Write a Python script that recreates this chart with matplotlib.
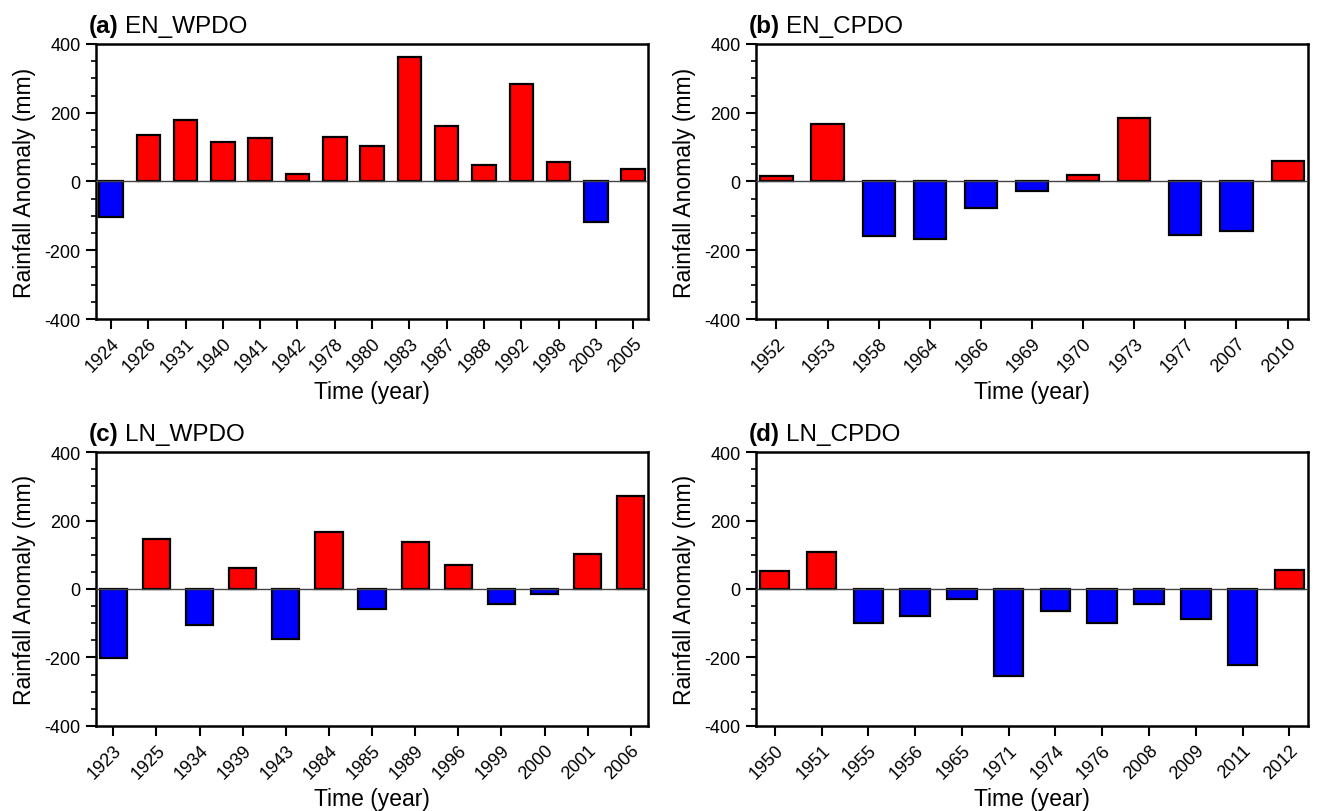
import numpy as np
import matplotlib
matplotlib.use('Agg')
import matplotlib.pyplot as plt
from matplotlib.ticker import MultipleLocator

plt.rcParams['font.family'] = ['Liberation Sans', 'DejaVu Sans']
plt.rcParams['axes.unicode_minus'] = False

# ── DATOS ──────────────────────────────────────────────────────────────────────
anios_a = ['1924', '1926', '1931', '1940', '1941', '1942', '1978', '1980',
           '1983', '1987', '1988', '1992', '1998', '2003', '2005']
valores_a = [-104, 136, 179, 115, 127, 22, 129, 102, 362, 160, 49, 283, 57, -117, 37]

anios_b = ['1952', '1953', '1958', '1964', '1966', '1969', '1970', '1973',
           '1977', '2007', '2010']
valores_b = [15, 167, -159, -167, -78, -28, 19, 186, -157, -143, 61]

anios_c = ['1923', '1925', '1934', '1939', '1943', '1984', '1985', '1989',
           '1996', '1999', '2000', '2001', '2006']
valores_c = [-201, 146, -106, 62, -145, 166, -59, 137, 70, -43, -15, 103, 271]

anios_d = ['1950', '1951', '1955', '1956', '1965', '1971', '1974', '1976',
           '2008', '2009', '2011', '2012']
valores_d = [53, 108, -98, -80, -29, -254, -64, -98, -45, -88, -222, 56]

paneles = [
    ('(a)', 'EN_WPDO', anios_a, valores_a),
    ('(b)', 'EN_CPDO', anios_b, valores_b),
    ('(c)', 'LN_WPDO', anios_c, valores_c),
    ('(d)', 'LN_CPDO', anios_d, valores_d),
]

# posiciones de los ejes en fracción de figura (izq, abajo, ancho, alto)
posiciones = [
    (0.0727, 0.6059, 0.4179, 0.3387),
    (0.5723, 0.6059, 0.4179, 0.3387),
    (0.0727, 0.1047, 0.4179, 0.3374),
    (0.5723, 0.1047, 0.4179, 0.3374),
]

# ── FIGURA ─────────────────────────────────────────────────────────────────────
fig = plt.figure(figsize=(13.21, 8.12), dpi=100)
titulos = []

for (letra, nombre, anios, valores), pos in zip(paneles, posiciones):
    ax = fig.add_axes(pos)
    n = len(valores)
    x = np.arange(n)
    colores = ['#ff0000' if v > 0 else '#0000ff' for v in valores]
    ax.bar(x, valores, width=0.63, color=colores, edgecolor='black',
           linewidth=1.6, zorder=2)
    ax.axhline(0, color='#444444', linewidth=1.0, zorder=3)

    ax.set_xlim(-0.4, n - 0.6)
    ax.set_ylim(-400, 400)
    ax.yaxis.set_major_locator(MultipleLocator(200))
    ax.yaxis.set_minor_locator(MultipleLocator(50))
    ax.set_xticks(x)
    ax.set_xticklabels(anios, rotation=45, ha='right', va='top',
                       rotation_mode='anchor', fontsize=13)
    ax.tick_params(axis='y', which='major', direction='out', length=7,
                   width=1.5, labelsize=13, pad=4, right=False)
    ax.tick_params(axis='y', which='minor', direction='out', length=3.5,
                   width=1.2, right=False)
    ax.tick_params(axis='x', which='major', direction='out', length=7,
                   width=1.5, pad=4, top=False)
    for s in ax.spines.values():
        s.set_linewidth(1.8)

    ax.set_ylabel('Rainfall Anomaly (mm)', fontsize=16.5, labelpad=6)
    ax.set_xlabel('Time (year)', fontsize=16.5, labelpad=4)

    t = ax.text(-7 / 552, 1 + 12 / 275, letra, transform=ax.transAxes,
                fontsize=17.5, fontweight='bold', ha='left', va='baseline')
    titulos.append((ax, t, nombre))

# el nombre va justo después de la letra en negrita
fig.canvas.draw()
ren = fig.canvas.get_renderer()
for ax, t, nombre in titulos:
    bb = t.get_window_extent(renderer=ren)
    x0 = ax.transAxes.inverted().transform((bb.x1 + 6, bb.y0))[0]
    ax.text(x0, 1 + 12 / 275, nombre, transform=ax.transAxes, fontsize=17.5,
            ha='left', va='baseline')

fig.savefig('out.png', dpi=100)
plt.close(fig)
